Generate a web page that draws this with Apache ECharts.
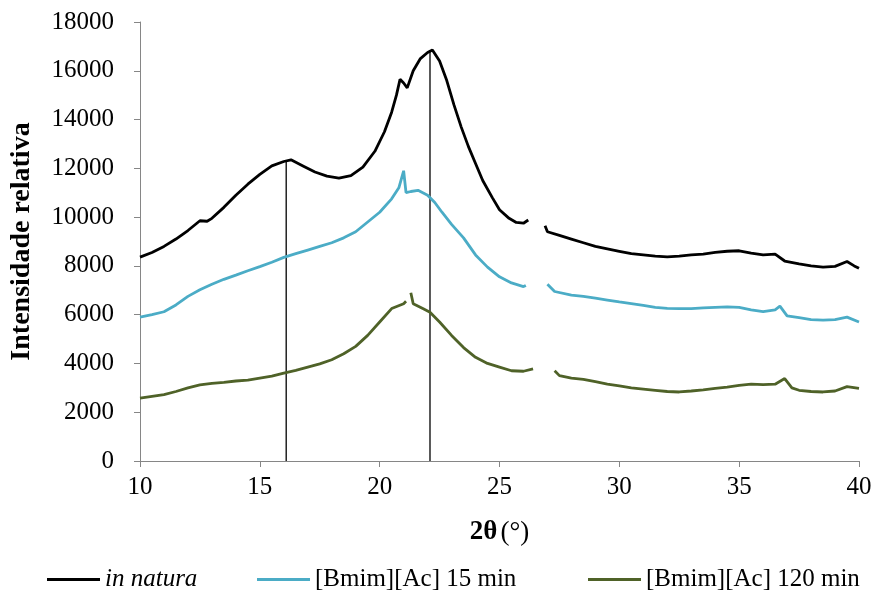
<!DOCTYPE html>
<html>
<head>
<meta charset="utf-8">
<script src="https://cdn.jsdelivr.net/npm/echarts@6/dist/echarts.min.js"></script>
<style>
  html, body { margin: 0; padding: 0; background: #fff; }
  #chart { width: 888px; height: 599px; }
</style>
</head>
<body>
<div id="chart"></div>
<script>
// 2θ values (null y = break in the scan)
var xNatura = [10.0,10.5,11.0,11.5,12.0,12.5,12.8,13.0,13.5,14.0,14.5,15.0,15.5,16.0,16.3,16.8,17.3,17.8,18.3,18.8,19.3,19.8,20.2,20.5,20.7,20.85,21.0,21.15,21.4,21.7,22.0,22.2,22.5,22.8,23.1,23.4,23.7,24.0,24.3,24.7,25.0,25.4,25.7,26.0,26.2,26.5,26.9,27.0,27.5,28.0,28.5,29.0,29.5,30.0,30.5,31.0,31.5,32.0,32.5,33.0,33.5,34.0,34.5,35.0,35.5,36.0,36.5,36.9,37.5,38.0,38.5,39.0,39.5,39.8,40.0];
var yNatura = [8360,8550,8800,9100,9450,9850,9830,9950,10400,10900,11350,11750,12100,12280,12350,12100,11850,11680,11600,11700,12050,12700,13500,14300,15000,15650,15500,15300,16000,16500,16750,16850,16400,15600,14600,13700,12900,12200,11500,10800,10300,9950,9780,9750,9880,null,9650,9400,9250,9100,8950,8800,8700,8600,8500,8450,8400,8370,8400,8450,8480,8550,8600,8620,8520,8450,8480,8200,8080,8000,7950,7980,8180,8000,7900];

var x15 = [10.0,10.5,11.0,11.5,12.0,12.5,13.0,13.5,14.0,14.5,15.0,15.5,16.0,16.5,17.0,17.5,18.0,18.5,19.0,19.5,20.0,20.5,20.8,21.0,21.1,21.3,21.6,22.0,22.3,22.6,23.0,23.5,24.0,24.5,25.0,25.5,26.0,26.1,26.5,27.0,27.3,28.0,28.5,29.0,29.5,30.0,30.5,31.0,31.5,32.0,32.5,33.0,33.5,34.0,34.5,35.0,35.5,36.0,36.5,36.7,37.0,37.5,38.0,38.5,39.0,39.5,40.0];
var y15 = [5900,6000,6120,6400,6750,7020,7250,7450,7620,7800,7970,8150,8350,8500,8650,8800,8950,9150,9400,9800,10200,10750,11200,11900,11000,11050,11100,10900,10600,10200,9700,9150,8450,7950,7550,7300,7150,7200,null,7250,6950,6800,6750,6680,6600,6520,6450,6380,6300,6260,6250,6250,6280,6300,6320,6300,6200,6120,6200,6350,5950,5880,5800,5780,5800,5900,5700];

var x120 = [10.0,10.5,11.0,11.5,12.0,12.5,13.0,13.5,14.0,14.5,15.0,15.5,16.0,16.5,17.0,17.5,18.0,18.5,19.0,19.5,20.0,20.5,21.0,21.1,21.2,21.3,21.4,21.8,22.1,22.5,23.0,23.5,24.0,24.5,25.0,25.5,26.0,26.4,26.8,27.3,27.5,28.0,28.5,29.0,29.5,30.0,30.5,31.0,31.5,32.0,32.5,33.0,33.5,34.0,34.5,35.0,35.5,36.0,36.5,36.9,37.2,37.5,38.0,38.5,39.0,39.5,40.0];
var y120 = [2580,2650,2720,2850,3000,3120,3180,3220,3280,3320,3400,3480,3600,3720,3850,3980,4150,4400,4700,5150,5700,6250,6450,6550,null,6900,6450,6250,6100,5700,5150,4650,4250,4000,3850,3700,3680,3780,null,3700,3500,3400,3350,3250,3150,3080,3000,2950,2900,2850,2830,2870,2920,2980,3030,3100,3150,3130,3150,3380,3000,2900,2850,2830,2870,3050,2980];

// vertical marker lines at the two crystalline peaks: [2θ, top]
var peakLines = [[16.1, 12300], [22.1, 16800]];

var seriesNames = ['in natura', '[Bmim][Ac] 15 min', '[Bmim][Ac] 120 min'];
var seriesColors = ['#000000', '#4bacc6', '#4f6228'];

function pairs(xs, ys) {
  return xs.map(function (x, i) { return [x, ys[i] == null ? '-' : ys[i]]; });
}

var font = 'Liberation Serif, Times New Roman, serif';
var myChart = echarts.init(document.getElementById('chart'));

var series = [
  [xNatura, yNatura], [x15, y15], [x120, y120]
].map(function (d, i) {
  return {
    name: seriesNames[i],
    type: 'line',
    symbol: 'none',
    data: pairs(d[0], d[1]),
    lineStyle: { color: seriesColors[i], width: 2.8 },
    itemStyle: { color: seriesColors[i] },
    animation: false
  };
});

peakLines.forEach(function (p) {
  series.push({
    type: 'line',
    symbol: 'none',
    data: [[p[0], 0], [p[0], p[1]]],
    lineStyle: { color: '#000', width: 1.3 },
    silent: true,
    z: 1,
    animation: false
  });
});

function legendAt(name, left) {
  return {
    data: [name],
    left: left,
    top: 567,
    padding: 0,
    icon: 'rect',
    itemWidth: 53,
    itemHeight: 3,
    itemGap: 0,
    itemStyle: { borderWidth: 0 },
    textStyle: {
      fontFamily: font,
      fontSize: 25,
      color: '#000',
      fontStyle: name === 'in natura' ? 'italic' : 'normal'
    }
  };
}

var option = {
  backgroundColor: '#fff',
  animation: false,
  grid: { left: 140, right: 29, top: 22, bottom: 138 },
  legend: [
    legendAt(seriesNames[0], 47),
    legendAt(seriesNames[1], 257),
    legendAt(seriesNames[2], 588)
  ],
  xAxis: {
    type: 'value',
    min: 10,
    max: 40,
    interval: 5,
    name: '{b|2θ} {n|(°)}',
    nameLocation: 'middle',
    nameGap: 58,
    nameTextStyle: {
      rich: {
        b: { fontFamily: font, fontSize: 27, fontWeight: 'bold', color: '#000' },
        n: { fontFamily: font, fontSize: 27, color: '#000' }
      }
    },
    axisLine: { lineStyle: { color: '#868686', width: 1 } },
    axisTick: { show: true, length: 6, lineStyle: { color: '#868686' } },
    axisLabel: { margin: 14, fontFamily: font, fontSize: 25, color: '#000' },
    splitLine: { show: false }
  },
  yAxis: {
    type: 'value',
    min: 0,
    max: 18000,
    interval: 2000,
    name: 'Intensidade relativa',
    nameLocation: 'middle',
    nameGap: 104,
    nameTextStyle: { fontFamily: font, fontSize: 28, fontWeight: 'bold', color: '#000' },
    axisLine: { show: true, lineStyle: { color: '#868686', width: 1 } },
    axisTick: { show: true, length: 6, lineStyle: { color: '#868686' } },
    axisLabel: {
      margin: 26, fontFamily: font, fontSize: 25, color: '#000',
      formatter: function (v) { return String(v); }
    },
    splitLine: { show: false }
  },
  series: series
};

myChart.setOption(option);
</script>
</body>
</html>
